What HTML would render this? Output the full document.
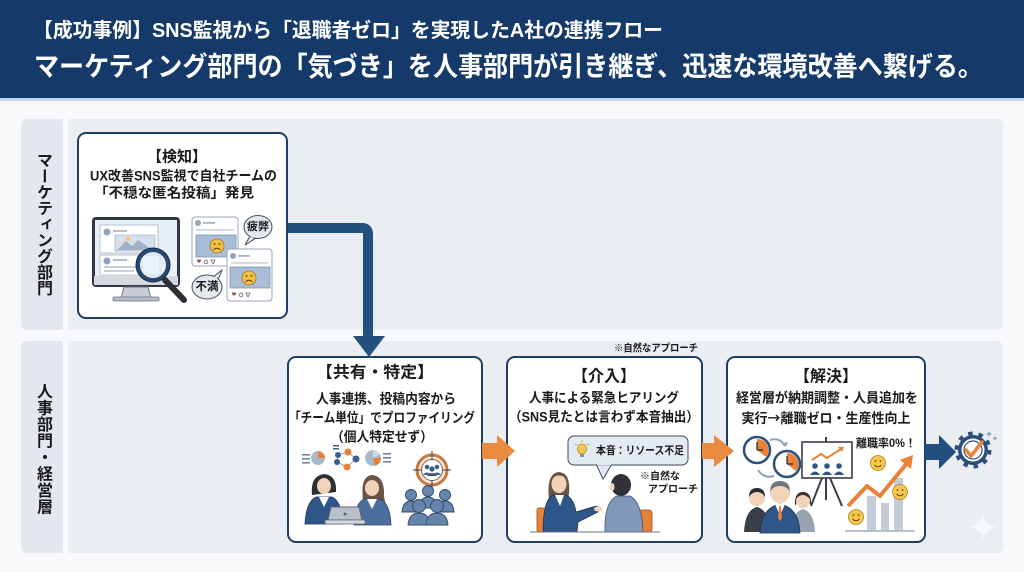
<!DOCTYPE html>
<html><head><meta charset="utf-8">
<style>
html,body{margin:0;padding:0;background:#f8f9fb;}
body{width:1024px;height:572px;overflow:hidden;position:relative;font-family:"Liberation Sans","Noto Sans CJK JP",sans-serif;}
svg{position:absolute;left:0;top:0;}
svg text{font-family:"Liberation Sans","Noto Sans CJK JP",sans-serif;font-weight:bold;}
.vl{position:absolute;writing-mode:vertical-rl;text-orientation:upright;font-weight:bold;color:#1a1a1a;font-size:16px;line-height:16px;width:16px;font-family:"Liberation Sans","Noto Sans CJK JP",sans-serif;}
</style></head><body>
<svg width="1024" height="572" viewBox="0 0 1024 572">
<!-- header -->
<rect x="0" y="0" width="1024" height="98" fill="#153a69"/>
<rect x="0" y="98" width="1024" height="3" fill="#c9d6e6"/>
<text x="33" y="31" font-size="20" fill="#fff" dominant-baseline="central" textLength="630" lengthAdjust="spacingAndGlyphs">【成功事例】SNS監視から「退職者ゼロ」を実現したA社の連携フロー</text>
<text x="34" y="67" font-size="27" fill="#fff" dominant-baseline="central" textLength="949" lengthAdjust="spacingAndGlyphs">マーケティング部門の「気づき」を人事部門が引き継ぎ、迅速な環境改善へ繋げる。</text>

<!-- lanes -->
<rect x="21" y="119" width="982" height="211" rx="6" fill="#eaeef3"/>
<rect x="21" y="119" width="42" height="211" rx="6" fill="#e4e8ee"/>
<rect x="63" y="119" width="5" height="211" fill="#f8f9fb"/>
<rect x="21" y="341" width="982" height="212" rx="6" fill="#eaeef3"/>
<rect x="21" y="341" width="42" height="212" rx="6" fill="#e4e8ee"/>
<rect x="63" y="341" width="5" height="212" fill="#f8f9fb"/>

<!-- sparkle -->
<path d="M983,514 Q985,525 996,527 Q985,529 983,540 Q981,529 970,527 Q981,525 983,514Z" fill="#f6f8fb"/>

<!-- connector -->
<path d="M287,228 H362 Q368,228 368,234 V338" stroke="#22507f" stroke-width="10" fill="none"/>
<polygon points="353,336 385,336 369,357" fill="#22507f"/>

<!-- boxes -->
<rect x="78" y="133" width="209" height="185" rx="8" fill="#fff" stroke="#1f3d63" stroke-width="2"/>
<rect x="288" y="357" width="194" height="185" rx="8" fill="#fff" stroke="#1f3d63" stroke-width="2"/>
<rect x="507" y="357" width="195" height="185" rx="8" fill="#fff" stroke="#1f3d63" stroke-width="2"/>
<rect x="727" y="357" width="198" height="185" rx="8" fill="#fff" stroke="#1f3d63" stroke-width="2"/>

<!-- arrows -->
<polygon points="482,443 497,443 497,435 515,451 497,467 497,459 482,459" fill="#ea8a3e"/>
<polygon points="702,443 714,443 714,435 734,451 714,467 714,459 702,459" fill="#ea8a3e"/>
<polygon points="925,444 939,444 939,435 956,452 939,469 939,460 925,460" fill="#22507f"/>

<!-- gear -->
<circle cx="973" cy="450" r="16.5" fill="none" stroke="#2c4f7c" stroke-width="4" stroke-dasharray="4.5 5.9"/>
<circle cx="973" cy="450" r="15" fill="#2c4f7c"/>
<circle cx="973" cy="450" r="11.5" fill="#fff"/>
<circle cx="973" cy="450" r="9" fill="none" stroke="#2c4f7c" stroke-width="1.2"/>
<path d="M966,450 L971,456 L982,442" stroke="#e8823a" stroke-width="3.5" fill="none" stroke-linecap="round" stroke-linejoin="round"/>
<path d="M989,431 l1,2 2,1 -2,1 -1,2 -1,-2 -2,-1 2,-1z M995,436 l.8,1.6 1.6,.8 -1.6,.8 -.8,1.6 -.8,-1.6 -1.6,-.8 1.6,-.8z" fill="#8aa0bd"/>

<!-- Box1 text -->
<text x="177" y="157" font-size="15" fill="#1a1a1a" text-anchor="middle" dominant-baseline="central">【検知】</text>
<text x="90" y="176" font-size="13.5" fill="#1a1a1a" dominant-baseline="central" textLength="187" lengthAdjust="spacingAndGlyphs">UX改善SNS監視で自社チームの</text>
<text x="94" y="193" font-size="13.5" fill="#1a1a1a" dominant-baseline="central" textLength="160" lengthAdjust="spacingAndGlyphs">「不穏な匿名投稿」発見</text>

<!-- Box1 illustration -->
<rect x="92" y="217" width="88" height="70" rx="4" fill="#2f3744"/>
<rect x="95" y="220" width="82" height="56" fill="#e9eff6"/>
<rect x="94" y="276" width="84" height="9" fill="#d5d9df"/>
<path d="M124,287 L148,287 L151,298 L121,298 Z" fill="#c9ced6" stroke="#6b7380" stroke-width="1"/>
<rect x="113" y="297" width="46" height="4" rx="1.5" fill="#b8bec7" stroke="#6b7380" stroke-width="0.8"/>
<rect x="100" y="225" width="58" height="28" fill="#fff" stroke="#b5c0cd" stroke-width="1"/>
<circle cx="107" cy="232" r="3.5" fill="#8fa3bd"/>
<rect x="113" y="230" width="14" height="2" fill="#b5bfcc"/>
<rect x="115" y="235" width="40" height="16" fill="#d6e0eb" stroke="#aab8c8" stroke-width=".8"/>
<path d="M117,250 L126,241 L132,246 L138,240 L153,250 Z" fill="#9fb1c6"/>
<circle cx="128" cy="239" r="2" fill="#f1c24d"/>
<rect x="100" y="255" width="60" height="20" fill="#fff" stroke="#b5c0cd" stroke-width="1"/>
<circle cx="107" cy="261" r="3.5" fill="#8fa3bd"/>
<rect x="113" y="259" width="14" height="2" fill="#b5bfcc"/>
<rect x="104" y="266" width="40" height="2" fill="#c5ced9"/>
<rect x="104" y="270" width="30" height="2" fill="#c5ced9"/>
<line x1="165" y1="280" x2="184" y2="300" stroke="#2b2f36" stroke-width="6" stroke-linecap="round"/>
<circle cx="153" cy="265" r="15" fill="#e3edf8" fill-opacity="0.7" stroke="#274a74" stroke-width="4"/>
<circle cx="153" cy="265" r="17" fill="none" stroke="#1a2a40" stroke-width="1"/>

<!-- Card A -->
<rect x="192" y="217" width="46" height="49" rx="3" fill="#fff" stroke="#9aa5b3"/>
<circle cx="198" cy="223" r="3" fill="#8fa3bd"/>
<rect x="203" y="222" width="12" height="1.8" fill="#aab4c2"/>
<rect x="196" y="229" width="38" height="1.8" fill="#cfd6df"/>
<rect x="196" y="235" width="40" height="22" fill="#a9bdd6" stroke="#7f96b3" stroke-width=".8"/>
<circle cx="217" cy="246" r="7" fill="#f3c244" stroke="#a07a20" stroke-width=".8"/>
<circle cx="214.5" cy="244" r=".9" fill="#5a3d10"/><circle cx="219.5" cy="244" r=".9" fill="#5a3d10"/>
<path d="M213.5,250 Q217,246.5 220.5,250" stroke="#5a3d10" stroke-width="1" fill="none"/>
<path d="M197,261 l2,2 2,-2 a1,1 0 0 0 -2,-1 a1,1 0 0 0 -2,1z" fill="#8a5a4a"/>
<circle cx="206" cy="262" r="1.8" fill="none" stroke="#666" stroke-width=".8"/>
<path d="M211,260 h4 l-2,4z" fill="none" stroke="#666" stroke-width=".8"/>
<!-- bubble 疲弊 -->
<path d="M250,236 L245,245 L256,238" fill="#e4e9f0" stroke="#4a4f57" stroke-width="1"/>
<ellipse cx="258" cy="227" rx="14" ry="11.5" fill="#e4e9f0" stroke="#4a4f57" stroke-width="1"/>
<path d="M250,236.5 L252,238 L256,237" fill="#e4e9f0"/>
<text x="258" y="227" font-size="11" fill="#1a1a1a" text-anchor="middle" dominant-baseline="central">疲弊</text>
<!-- Card B -->
<rect x="227" y="249" width="45" height="52" rx="3" fill="#fff" stroke="#9aa5b3"/>
<circle cx="233" cy="256" r="3" fill="#8fa3bd"/>
<rect x="238" y="255" width="12" height="1.8" fill="#aab4c2"/>
<rect x="231" y="262" width="37" height="1.8" fill="#cfd6df"/>
<rect x="230" y="267" width="40" height="21" fill="#a9bdd6" stroke="#7f96b3" stroke-width=".8"/>
<circle cx="249" cy="278" r="7" fill="#f3c244" stroke="#a07a20" stroke-width=".8"/>
<circle cx="246.5" cy="276" r=".9" fill="#5a3d10"/><circle cx="251.5" cy="276" r=".9" fill="#5a3d10"/>
<path d="M245.5,282 Q249,278.5 252.5,282" stroke="#5a3d10" stroke-width="1" fill="none"/>
<path d="M232,294 l2,2 2,-2 a1,1 0 0 0 -2,-1 a1,1 0 0 0 -2,1z" fill="#8a5a4a"/>
<circle cx="241" cy="295" r="1.8" fill="none" stroke="#666" stroke-width=".8"/>
<path d="M246,293 h4 l-2,4z" fill="none" stroke="#666" stroke-width=".8"/>
<!-- bubble 不満 -->
<path d="M213,277 L222,270 L218,280" fill="#e4e9f0" stroke="#4a4f57" stroke-width="1"/>
<ellipse cx="207" cy="287" rx="15" ry="12" fill="#e4e9f0" stroke="#4a4f57" stroke-width="1"/>
<path d="M213,277.5 L217,276 L217,280" fill="#e4e9f0"/>
<text x="207" y="287" font-size="11.5" fill="#1a1a1a" text-anchor="middle" dominant-baseline="central">不満</text>

<!-- Box2 text -->
<text x="375" y="373" font-size="16" fill="#1a1a1a" text-anchor="middle" dominant-baseline="central" textLength="118" lengthAdjust="spacingAndGlyphs">【共有・特定】</text>
<text x="386" y="399" font-size="13.5" fill="#1a1a1a" text-anchor="middle" dominant-baseline="central" textLength="140" lengthAdjust="spacingAndGlyphs">人事連携、投稿内容から</text>
<text x="382" y="418" font-size="13.5" fill="#1a1a1a" text-anchor="middle" dominant-baseline="central" textLength="186" lengthAdjust="spacingAndGlyphs">「チーム単位」でプロファイリング</text>
<text x="382" y="437" font-size="13.5" fill="#1a1a1a" text-anchor="middle" dominant-baseline="central" textLength="102" lengthAdjust="spacingAndGlyphs">（個人特定せず）</text>

<!-- Box2 illustration -->
<rect x="302" y="454" width="8" height="1.6" fill="#6d83a3"/><rect x="302" y="458" width="8" height="1.6" fill="#6d83a3"/><rect x="302" y="462" width="8" height="1.6" fill="#6d83a3"/>
<circle cx="318" cy="458" r="7" fill="#a9b9cc"/>
<path d="M318,458 L318,451 A7,7 0 0 1 325,458 Z" fill="#e8823a"/>
<g stroke="#9aa5b3" stroke-width="1">
<line x1="338" y1="455" x2="348" y2="452"/><line x1="348" y1="452" x2="356" y2="459"/><line x1="356" y1="459" x2="347" y2="467"/><line x1="347" y1="467" x2="337" y2="462"/><line x1="337" y1="462" x2="338" y2="455"/>
</g>
<rect x="333" y="445" width="6" height="1.5" fill="#3d5f8e"/><rect x="333" y="448" width="6" height="1.5" fill="#3d5f8e"/>
<circle cx="338" cy="455" r="3" fill="#3d5f8e"/>
<circle cx="348" cy="452" r="3.5" fill="#e8823a"/>
<circle cx="356" cy="459" r="3.5" fill="#3d5f8e"/>
<circle cx="347" cy="467" r="3.5" fill="#e8823a"/>
<circle cx="337" cy="462" r="3" fill="#3d5f8e"/>
<circle cx="373" cy="458" r="8" fill="#a9b9cc"/>
<path d="M373,458 L381,458 A8,8 0 0 1 375,465.8 Z" fill="#e8823a"/>
<path d="M373,458 L373,450 A8,8 0 0 1 380,454 Z" fill="#cfd8e3"/>
<rect x="383" y="453" width="8" height="1.6" fill="#6d83a3"/><rect x="383" y="457" width="8" height="1.6" fill="#6d83a3"/><rect x="383" y="461" width="8" height="1.6" fill="#6d83a3"/>
<!-- woman 1 -->
<path d="M312,495 Q310,476 324,474 Q337,475 336,492 Z" fill="#2c2f36"/>
<ellipse cx="324" cy="486" rx="7" ry="8" fill="#f2d3b8"/>
<path d="M316,482 Q322,474 333,481 Q330,476 324,475 Q316,476 316,482Z" fill="#2c2f36"/>
<path d="M305,524 Q306,502 316,497 L332,497 Q342,502 343,524 Z" fill="#2f5688" stroke="#1d3557" stroke-width=".8"/>
<path d="M319,497 L324,507 L329,497 Z" fill="#fff"/>
<!-- woman 2 -->
<path d="M363,500 Q360,476 372,475 Q385,476 384,496 L386,508 Q380,508 381,500 Z" fill="#6a5444"/>
<ellipse cx="372" cy="488" rx="7" ry="8" fill="#f2d3b8"/>
<path d="M365,484 Q370,476 380,483 Q378,477 372,476 Q365,477 365,484Z" fill="#6a5444"/>
<path d="M354,525 Q355,503 364,499 L380,499 Q390,503 391,525 Z" fill="#4b6e9e" stroke="#27456d" stroke-width=".8"/>
<path d="M367,499 L372,509 L377,499 Z" fill="#fff"/>
<!-- laptop -->
<path d="M331,507 L359,507 L362,520 L328,520 Z" fill="#b9c0c9" stroke="#5f6772" stroke-width="1"/>
<rect x="325" y="520" width="40" height="4" rx="1" fill="#d3d8de" stroke="#5f6772" stroke-width=".8"/>
<circle cx="345" cy="514" r="1.5" fill="#5f6772"/>
<!-- target -->
<circle cx="432" cy="470" r="15" fill="#f7ece3" stroke="#c9773a" stroke-width="3"/>
<circle cx="432" cy="470" r="10.5" fill="#fff" stroke="#8a5a3a" stroke-width="1"/>
<g stroke="#3a3f47" stroke-width="1"><line x1="413" y1="470" x2="422" y2="470"/><line x1="442" y1="470" x2="451" y2="470"/><line x1="432" y1="451" x2="432" y2="460"/><line x1="432" y1="480" x2="432" y2="489"/></g>
<circle cx="427" cy="467" r="2.3" fill="#3d5f8e"/><circle cx="437" cy="467" r="2.3" fill="#3d5f8e"/><circle cx="432" cy="469" r="2.6" fill="#2f5688"/>
<path d="M423,475 Q427,470 431,475Z M433,475 Q437,470 441,475Z" fill="#3d5f8e"/>
<path d="M427,476 Q432,470 437,476Z" fill="#2f5688"/>
<!-- people group -->
<g fill="#6784ab" stroke="#2f4a6e" stroke-width=".9">
<circle cx="411" cy="495" r="5.5"/><circle cx="428" cy="491" r="5.5"/><circle cx="445" cy="495" r="5.5"/>
<path d="M402,512 Q403,501 411,501 Q419,501 420,512Z"/>
<path d="M436,512 Q437,501 445,501 Q453,501 454,512Z"/>
<path d="M419,508 Q420,497 428,497 Q436,497 437,508Z"/>
<circle cx="419" cy="506" r="6.5"/><circle cx="437" cy="506" r="6.5"/>
<path d="M408,525 Q409,513 419,513 Q429,513 430,525Z"/>
<path d="M426,525 Q427,513 437,513 Q447,513 448,525Z"/>
</g>

<!-- Box3 text -->
<text x="614" y="349" font-size="10" fill="#1a1a1a" dominant-baseline="central" textLength="84" lengthAdjust="spacingAndGlyphs">※自然なアプローチ</text>
<text x="604" y="377" font-size="16" fill="#1a1a1a" text-anchor="middle" dominant-baseline="central">【介入】</text>
<text x="604" y="398" font-size="13.5" fill="#1a1a1a" text-anchor="middle" dominant-baseline="central" textLength="150" lengthAdjust="spacingAndGlyphs">人事による緊急ヒアリング</text>
<text x="604" y="417" font-size="13.5" fill="#1a1a1a" text-anchor="middle" dominant-baseline="central" textLength="190" lengthAdjust="spacingAndGlyphs">（SNS見たとは言わず本音抽出）</text>
<!-- bubble -->
<path d="M596,464 L603,479 L612,464" fill="#e3eaf2" stroke="#3f4a58" stroke-width="1"/>
<rect x="568" y="436" width="120" height="29" rx="6" fill="#e3eaf2" stroke="#3f4a58" stroke-width="1"/>
<path d="M597,464.5 L611,464.5" stroke="#e3eaf2" stroke-width="1.5"/>
<ellipse cx="582" cy="449" rx="4.5" ry="5" fill="#f5c84c" stroke="#b58a1e" stroke-width=".8"/>
<rect x="580" y="454" width="4" height="3" fill="#8a8f98"/>
<g stroke="#b58a1e" stroke-width=".8"><line x1="582" y1="440" x2="582" y2="442"/><line x1="575" y1="444" x2="577" y2="445"/><line x1="589" y1="444" x2="587" y2="445"/></g>
<text x="640" y="451" font-size="11" fill="#1a1a1a" text-anchor="middle" dominant-baseline="central" textLength="88" lengthAdjust="spacingAndGlyphs">本音：リソース不足</text>
<text x="660" y="477" font-size="10" fill="#1a1a1a" text-anchor="middle" dominant-baseline="central">※自然な</text>
<text x="673" y="490" font-size="10" fill="#1a1a1a" text-anchor="middle" dominant-baseline="central">アプローチ</text>
<!-- woman -->
<rect x="537" y="508" width="10" height="24" rx="2" fill="#e8823a" stroke="#9a5220" stroke-width=".8"/>
<path d="M549,500 Q546,473 559,472 Q571,473 569,494 L566,506 Q552,508 549,500Z" fill="#6b5645"/>
<ellipse cx="559" cy="484" rx="7.5" ry="9" fill="#f2d3b8"/>
<path d="M551,481 Q556,471 568,479 Q566,473 559,473 Q550,474 551,481Z" fill="#6b5645"/>
<path d="M543,532 Q543,500 553,495 L566,495 Q574,499 576,512 L596,506 Q601,507 598,512 L578,522 L577,532Z" fill="#2f5688" stroke="#1d3557" stroke-width=".8"/>
<path d="M555,495 L560,506 L564,495Z" fill="#fff"/>
<ellipse cx="598" cy="509" rx="4" ry="2.5" fill="#f2d3b8"/>
<!-- man -->
<rect x="630" y="510" width="22" height="22" rx="3" fill="#e8823a" stroke="#9a5220" stroke-width=".8"/>
<path d="M605,532 Q604,502 617,496 L630,496 Q642,502 643,532Z" fill="#8198b8" stroke="#3e5575" stroke-width=".8"/>
<ellipse cx="621" cy="485" rx="10" ry="11" fill="#2f3338"/>
<ellipse cx="612" cy="487" rx="2.5" ry="4" fill="#f2d3b8"/>
<line x1="530" y1="532" x2="660" y2="532" stroke="#6b7380" stroke-width="1"/>

<!-- Box4 text -->
<text x="826" y="377" font-size="16" fill="#1a1a1a" text-anchor="middle" dominant-baseline="central">【解決】</text>
<text x="827" y="398" font-size="13.5" fill="#1a1a1a" text-anchor="middle" dominant-baseline="central" textLength="182" lengthAdjust="spacingAndGlyphs">経営層が納期調整・人員追加を</text>
<text x="826" y="417" font-size="13.5" fill="#1a1a1a" text-anchor="middle" dominant-baseline="central" textLength="169" lengthAdjust="spacingAndGlyphs" style="font-family:'Noto Sans CJK JP',sans-serif">実行→離職ゼロ・生産性向上</text>
<text x="886" y="444" font-size="11.5" fill="#1a1a1a" text-anchor="middle" dominant-baseline="central" textLength="60" lengthAdjust="spacingAndGlyphs">離職率0%！</text>
<!-- clocks -->
<path d="M770,440 Q780,437 785,446" stroke="#8fa3bd" stroke-width="2" fill="none"/>
<path d="M783,443 L786,447 L788,442Z" fill="#8fa3bd"/>
<path d="M774,476 Q764,479 758,470" stroke="#8fa3bd" stroke-width="2" fill="none"/>
<circle cx="757" cy="450" r="13" fill="#fff" stroke="#2c4f7c" stroke-width="2.5"/>
<path d="M757,450 L757,439 A11,11 0 0 1 766,457 Z" fill="#e8823a"/>
<line x1="757" y1="450" x2="757" y2="442" stroke="#222" stroke-width="1.2"/><line x1="757" y1="450" x2="763" y2="450" stroke="#222" stroke-width="1.2"/>
<circle cx="787" cy="464" r="13" fill="#fff" stroke="#2c4f7c" stroke-width="2.5"/>
<path d="M787,464 L787,453 A11,11 0 0 1 796,471 Z" fill="#e8823a"/>
<line x1="787" y1="464" x2="787" y2="456" stroke="#222" stroke-width="1.2"/><line x1="787" y1="464" x2="793" y2="464" stroke="#222" stroke-width="1.2"/>
<!-- easel -->
<line x1="826" y1="437" x2="826" y2="442" stroke="#3a3f47" stroke-width="2"/>
<line x1="822" y1="478" x2="811" y2="506" stroke="#3a3f47" stroke-width="2"/>
<line x1="830" y1="478" x2="842" y2="506" stroke="#3a3f47" stroke-width="2"/>
<line x1="826" y1="478" x2="826" y2="500" stroke="#3a3f47" stroke-width="2"/>
<rect x="802" y="442" width="50" height="36" fill="#fff" stroke="#3a3f47" stroke-width="1.6"/>
<path d="M812,460 L821,454 L827,458 L841,449" stroke="#e8823a" stroke-width="2" fill="none"/>
<path d="M838,447 L844,447 L842,452Z" fill="#e8823a"/>
<g fill="#2f5688"><circle cx="815" cy="466" r="2.8"/><circle cx="827" cy="466" r="2.8"/><circle cx="839" cy="466" r="2.8"/>
<path d="M810,475 Q815,468 820,475Z M822,475 Q827,468 832,475Z M834,475 Q839,468 844,475Z"/></g>
<!-- bars -->
<rect x="867" y="496" width="9" height="34" fill="#c3ccd7"/>
<rect x="881" y="503" width="8" height="27" fill="#c3ccd7"/>
<rect x="894" y="478" width="9" height="52" fill="#c3ccd7"/>
<line x1="845" y1="531" x2="915" y2="531" stroke="#8e98a5" stroke-width="1.2"/>
<path d="M848,506 L867,486 L880,496 L908,462" stroke="#e8823a" stroke-width="4" fill="none" stroke-linejoin="round"/>
<path d="M900,460 L913,455 L911,469Z" fill="#e8823a"/>
<g fill="#f5c84c" stroke="#b08020" stroke-width=".8">
<circle cx="878" cy="463" r="7.5"/><circle cx="900" cy="492" r="7.5"/><circle cx="856" cy="517" r="7.5"/></g>
<g stroke="#6a4a10" stroke-width="1" fill="none">
<path d="M874.5,465 Q878,468.5 881.5,465"/><path d="M896.5,494 Q900,497.5 903.5,494"/><path d="M852.5,519 Q856,522.5 859.5,519"/></g>
<g fill="#6a4a10"><circle cx="875.5" cy="461" r=".9"/><circle cx="880.5" cy="461" r=".9"/><circle cx="897.5" cy="490" r=".9"/><circle cx="902.5" cy="490" r=".9"/><circle cx="853.5" cy="515" r=".9"/><circle cx="858.5" cy="515" r=".9"/></g>
<!-- business people -->
<path d="M744,532 Q745,510 757,507 Q769,510 770,532Z" fill="#3a3f47"/>
<circle cx="757" cy="498" r="8" fill="#f2d3b8"/>
<path d="M749,497 Q749,488 757,488 Q765,488 765,497 Q762,492 757,492 Q752,492 749,497Z" fill="#2c2f36"/>
<path d="M791,532 Q792,512 803,509 Q814,512 815,532Z" fill="#9aa4b0"/>
<path d="M795,506 Q794,492 803,492 Q812,492 811,506 L808,500 L798,500Z" fill="#3a3030"/>
<circle cx="803" cy="501" r="7" fill="#f2d3b8"/>
<path d="M796,499 Q797,492 803,492 Q809,492 810,499 Q806,495 803,495 Q799,495 796,499Z" fill="#3a3030"/>
<path d="M760,533 Q761,508 780,504 Q799,508 800,533Z" fill="#2f5688" stroke="#1d3557" stroke-width=".8"/>
<path d="M775,504 L780,516 L785,504Z" fill="#fff"/>
<path d="M779,506 L781,506 L782,518 L780,521 L778,518Z" fill="#e8823a"/>
<circle cx="780" cy="493" r="10" fill="#f2d3b8"/>
<path d="M770,492 Q770,481 780,481 Q790,481 790,492 Q787,486 780,486 Q773,486 770,492Z" fill="#6d7380"/>
</svg>
<div class="vl" style="left:34px;top:152px;">マーケティング部門</div>
<div class="vl" style="left:34px;top:383px;letter-spacing:0.5px;">人事部門・経営層</div>
</body></html>
